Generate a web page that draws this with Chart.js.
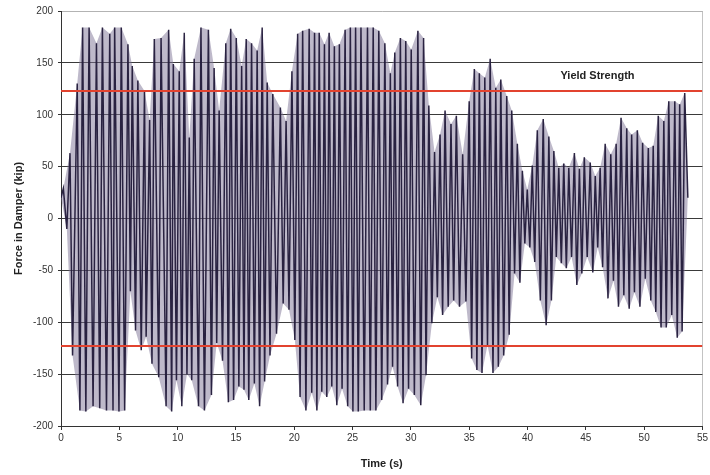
<!DOCTYPE html>
<html>
<head>
<meta charset="utf-8">
<script src="https://cdn.jsdelivr.net/npm/chart.js@4.4.0/dist/chart.umd.min.js"></script>
<style>
    html, body { margin: 0; padding: 0; background: #fff; }
    #damper_force { display: block; }
</style>
</head>
<body>
<canvas id="damper_force" width="710" height="475"></canvas>
<script>
// positive force peaks: [time (s), force (kip)]
const highPeaks = [
    [0.2, 29], [0.77, 63], [1.39, 130], [1.85, 184], [2.41, 184], [3.04, 169], [3.55, 184], [4.18, 178],
    [4.6, 184], [5.17, 184], [5.74, 168], [6.11, 147], [6.59, 133], [7.16, 123], [7.6, 95], [8.0, 173],
    [8.58, 174], [9.23, 182], [9.63, 149], [10.14, 142], [10.57, 179], [11.0, 78], [11.42, 154], [12.0, 184],
    [12.64, 182], [13.13, 145], [13.56, 104], [14.13, 169], [14.55, 183], [15.03, 174], [15.49, 147], [15.88, 173],
    [16.34, 169], [16.82, 162], [17.25, 184], [17.68, 131], [18.16, 120], [18.81, 107], [19.3, 94], [19.8, 142],
    [20.29, 178], [20.72, 181], [21.28, 183], [21.74, 179], [22.14, 179], [22.59, 168], [22.99, 179], [23.44, 166],
    [23.87, 168], [24.36, 182], [24.81, 184], [25.26, 184], [25.72, 184], [26.28, 184], [26.77, 184], [27.25, 181],
    [27.77, 169], [28.24, 140], [28.62, 160], [29.1, 174], [29.56, 171], [30.03, 163], [30.6, 181], [31.09, 174],
    [31.54, 109], [32.03, 64], [32.5, 81], [32.93, 104], [33.44, 91], [33.9, 99], [34.44, 62], [35.0, 113],
    [35.44, 144], [35.87, 140], [36.34, 136], [36.8, 154], [37.28, 126], [37.71, 134], [38.22, 118], [38.65, 104],
    [39.13, 72], [39.56, 46], [39.98, 28], [40.41, 51], [40.84, 85], [41.35, 96], [41.83, 79], [42.26, 65],
    [42.68, 49], [43.11, 53], [43.54, 49], [44.02, 63], [44.45, 48], [44.87, 59], [45.38, 54], [45.81, 41],
    [46.23, 49], [46.66, 72], [47.14, 62], [47.6, 72], [48.02, 97], [48.51, 87], [48.93, 81], [49.42, 85],
    [49.87, 73], [50.36, 68], [50.78, 70], [51.21, 99], [51.69, 94], [52.11, 113], [52.63, 113], [53.05, 110],
    [53.48, 121]
];

// negative force peaks: [time (s), force (kip)]
const lowPeaks = [
    [0.5, -10], [0.99, -132], [1.62, -185], [2.13, -186], [2.75, -181], [3.32, -183], [3.9, -185], [4.46, -185],
    [4.97, -186], [5.46, -185], [5.95, -70], [6.39, -108], [6.88, -127], [7.3, -114], [7.8, -140], [8.38, -153],
    [9.01, -181], [9.49, -186], [9.9, -156], [10.36, -181], [10.8, -150], [11.21, -156], [11.79, -181], [12.3, -185],
    [12.9, -170], [13.35, -120], [13.85, -137], [14.35, -177], [14.8, -175], [15.25, -162], [15.69, -165], [16.1, -175],
    [16.58, -159], [17.03, -181], [17.46, -157], [17.92, -132], [18.48, -111], [19.05, -82], [19.55, -88], [20.05, -117],
    [20.5, -172], [21.0, -185], [21.5, -168], [21.94, -185], [22.36, -167], [22.79, -172], [23.22, -162], [23.65, -180],
    [24.1, -164], [24.58, -181], [25.03, -186], [25.49, -186], [26.0, -185], [26.52, -185], [27.0, -185], [27.5, -175],
    [28.0, -160], [28.43, -143], [28.86, -162], [29.33, -178], [29.8, -164], [30.3, -170], [30.85, -180], [31.3, -151],
    [31.8, -101], [32.27, -76], [32.72, -93], [33.2, -85], [33.67, -79], [34.17, -85], [34.72, -80], [35.21, -135],
    [35.66, -146], [36.1, -149], [36.57, -122], [37.04, -149], [37.5, -143], [37.96, -132], [38.43, -112], [38.89, -53],
    [39.35, -62], [39.77, -24], [40.2, -28], [40.62, -42], [41.1, -79], [41.6, -103], [42.05, -79], [42.47, -37],
    [42.9, -43], [43.33, -48], [43.78, -37], [44.23, -64], [44.66, -53], [45.12, -37], [45.6, -52], [46.02, -28],
    [46.44, -47], [46.9, -77], [47.37, -60], [47.8, -85], [48.26, -74], [48.72, -87], [49.17, -71], [49.64, -85],
    [50.1, -58], [50.57, -79], [51.0, -90], [51.45, -105], [51.9, -105], [52.37, -93], [52.84, -115], [53.26, -109]
];

const startForce = [[0, 20]];
const endForce = [[53.75, 20]];

const yieldStrength = 123;   // kip
const yTicks = [-200, -150, -100, -50, 0, 50, 100, 150, 200];
const xTicks = [0, 5, 10, 15, 20, 25, 30, 35, 40, 45, 50, 55];

const toXY = p => ({x: p[0], y: p[1]});

// merge the peaks into one time history
const forceHistory = startForce.concat(highPeaks, lowPeaks, endForce)
    .sort((a, b) => a[0] - b[0])
    .map(toXY);

// envelopes, used for the shaded band behind the trace
const upperEnvelope = startForce.concat(highPeaks, endForce).map(toXY);
const lowerEnvelope = startForce.concat(lowPeaks, endForce).map(toXY);

const tickFont = {family: "'Liberation Sans', Arial, sans-serif", size: 10};
const titleFont = {family: "'Liberation Sans', Arial, sans-serif", size: 11, weight: 'bold'};

// "Yield Strength" note above the upper red line
const yieldLabel = {
    id: 'yieldLabel',
    afterDatasetsDraw(chart) {
        const c = chart.ctx;
        const xs = chart.scales.x, ys = chart.scales.y;
        c.save();
        c.font = "bold 11px 'Liberation Sans', Arial, sans-serif";
        c.fillStyle = '#222';
        c.textAlign = 'center';
        c.textBaseline = 'middle';
        c.fillText('Yield Strength', xs.getPixelForValue(46.0), ys.getPixelForValue(137));
        c.restore();
    }
};

new Chart(document.getElementById('damper_force'), {
    type: 'line',
    data: {
        datasets: [
            {
                label: 'Upper envelope',
                data: upperEnvelope,
                borderWidth: 0,
                borderColor: 'rgba(0,0,0,0)',
                backgroundColor: 'rgba(125, 116, 150, 0.5)',
                fill: '+1',
                pointRadius: 0,
                order: 3
            },
            {
                label: 'Lower envelope',
                data: lowerEnvelope,
                borderWidth: 0,
                borderColor: 'rgba(0,0,0,0)',
                fill: false,
                pointRadius: 0,
                order: 3
            },
            {
                label: 'Force',
                data: forceHistory,
                borderColor: 'rgba(34, 26, 58, 0.95)',
                borderWidth: 1.5,
                fill: false,
                pointRadius: 0,
                tension: 0,
                order: 2
            },
            {
                label: 'Yield +',
                data: [{x: 0, y: yieldStrength}, {x: 55, y: yieldStrength}],
                borderColor: '#e2432f',
                borderWidth: 2,
                pointRadius: 0,
                order: 1
            },
            {
                label: 'Yield -',
                data: [{x: 0, y: -yieldStrength}, {x: 55, y: -yieldStrength}],
                borderColor: '#e2432f',
                borderWidth: 2,
                pointRadius: 0,
                order: 1
            }
        ]
    },
    options: {
        responsive: false,
        animation: false,
        layout: {autoPadding: false, padding: {top: 10, right: 4, left: 0, bottom: 0}},
        plugins: {legend: {display: false}, tooltip: {enabled: false}},
        scales: {
            x: {
                type: 'linear',
                min: 0,
                max: 55,
                afterBuildTicks: axis => { axis.ticks = xTicks.map(v => ({value: v})); },
                afterFit: axis => { axis.height = 49; },
                ticks: {font: tickFont, color: '#333', padding: 2, maxRotation: 0},
                grid: {
                    color: ctx => ctx.tick && ctx.tick.value === 55 ? 'rgba(170,170,170,0.7)' : 'rgba(0,0,0,0)',
                    tickColor: '#333',
                    tickLength: 4
                },
                border: {color: '#333', width: 1},
                title: {display: true, text: 'Time (s)', font: titleFont, color: '#222', padding: {top: 6}}
            },
            y: {
                min: -200,
                max: 200,
                afterBuildTicks: axis => { axis.ticks = yTicks.map(v => ({value: v})); },
                afterFit: axis => { axis.width = 61; },
                ticks: {font: tickFont, color: '#333', padding: 5},
                grid: {
                    color: ctx => ctx.tick && ctx.tick.value === 200 ? 'rgba(160,160,160,0.8)' : '#3a3a3a',
                    tickColor: '#333',
                    tickLength: 3
                },
                border: {color: '#333', width: 1},
                title: {display: true, text: 'Force in Damper (kip)', font: titleFont, color: '#222', padding: {top: 12, bottom: 0}}
            }
        }
    },
    plugins: [yieldLabel]
});
</script>
</body>
</html>
